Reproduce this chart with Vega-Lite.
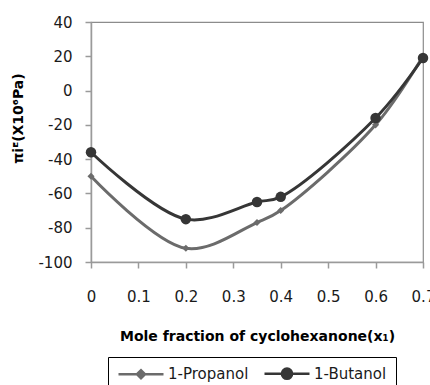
{
  "$schema": "https://vega.github.io/schema/vega-lite/v6.json",
  "autosize": {"type": "none"},
  "width": 332,
  "height": 240,
  "padding": {"left": 91, "top": 22, "right": 7, "bottom": 123},
  "background": "white",
  "config": {
    "font": "DejaVu Sans",
    "view": {"stroke": "#8c8c8c", "strokeWidth": 1.2},
    "axis": {"grid": false, "domainColor": "#9a9a9a", "tickColor": "#9a9a9a", "labelColor": "#1a1a1a", "titleColor": "#000000", "labelFont": "DejaVu Sans", "titleFont": "DejaVu Sans", "labelFontSize": 15, "domainWidth": 1.5, "tickWidth": 1.5}
  },
  "data": {
    "values": [
      {"x": 0, "y": -50, "series": "1-Propanol"},
      {"x": 0.2, "y": -92, "series": "1-Propanol"},
      {"x": 0.35, "y": -77, "series": "1-Propanol"},
      {"x": 0.4, "y": -70, "series": "1-Propanol"},
      {"x": 0.6, "y": -20, "series": "1-Propanol"},
      {"x": 0.7, "y": 20, "series": "1-Propanol"},
      {"x": 0, "y": -36, "series": "1-Butanol"},
      {"x": 0.2, "y": -75, "series": "1-Butanol"},
      {"x": 0.35, "y": -65, "series": "1-Butanol"},
      {"x": 0.4, "y": -62, "series": "1-Butanol"},
      {"x": 0.6, "y": -16, "series": "1-Butanol"},
      {"x": 0.7, "y": 19, "series": "1-Butanol"}
    ]
  },
  "encoding": {
    "x": {
      "field": "x", "type": "quantitative",
      "scale": {"domain": [0, 0.7], "nice": false, "zero": false},
      "axis": {"values": [0, 0.1, 0.2, 0.3, 0.4, 0.5, 0.6, 0.7], "format": "~g", "tickSize": 6, "labelPadding": 21, "labelFlush": false, "labelOverlap": false,
        "title": "Mole fraction of cyclohexanone(x₁)", "titleFontSize": 14, "titleFontWeight": "bold", "titlePadding": 25}
    },
    "y": {
      "field": "y", "type": "quantitative",
      "scale": {"domain": [-100, 40], "nice": false, "zero": false},
      "axis": {"values": [-100, -80, -60, -40, -20, 0, 20, 40], "tickSize": 6, "labelPadding": 13,
        "labelExpr": "replace(datum.label, '−', '-')",
        "title": "πiᴱ(X10⁶Pa)", "titleFontSize": 14, "titleFontWeight": "bold", "titleX": -73, "titleY": 96, "titleAngle": -90, "titleBaseline": "middle", "titleAlign": "center"}
    },
    "color": {
      "field": "series", "type": "nominal",
      "scale": {"domain": ["1-Propanol", "1-Butanol"], "range": ["#6b6b6b", "#363636"]},
      "legend": {
        "title": null,
        "orient": "none",
        "legendX": 17,
        "legendY": 335,
        "direction": "horizontal",
        "strokeColor": "#000000",
        "padding": 9,
        "symbolSize": 144,
        "symbolStrokeWidth": 2.5,
        "symbolOpacity": 1,
        "labelFont": "DejaVu Sans",
        "labelFontSize": 15,
        "labelColor": "#1a1a1a",
        "columnPadding": 10,
        "labelOffset": 36,
        "encode": {
          "symbols": {
            "update": {
              "shape": {"signal": "datum.value === '1-Propanol' ? 'M-1,0H6.5M2.08,0L2.75,-0.67L3.42,0L2.75,0.67Z' : 'M-1,0H6.5M3.6,0A0.85,0.85,0,1,1,1.9,0A0.85,0.85,0,1,1,3.6,0Z'"},
              "size": {"value": 144},
              "fill": {"signal": "datum.value === '1-Propanol' ? '#6b6b6b' : '#363636'"},
              "stroke": {"signal": "datum.value === '1-Propanol' ? '#6b6b6b' : '#363636'"},
              "strokeWidth": {"value": 2.5},
              "opacity": {"value": 1}
            }
          }
        }
      }
    }
  },
  "layer": [
    {
      "mark": {"type": "line", "interpolate": "catmull-rom", "strokeWidth": 3}
    },
    {
      "transform": [{"filter": "datum.series === '1-Propanol'"}],
      "mark": {"type": "point", "filled": true, "opacity": 1, "shape": "diamond", "size": 50}
    },
    {
      "transform": [{"filter": "datum.series === '1-Butanol'"}],
      "mark": {"type": "point", "filled": true, "opacity": 1, "shape": "circle", "size": 110}
    }
  ]
}
